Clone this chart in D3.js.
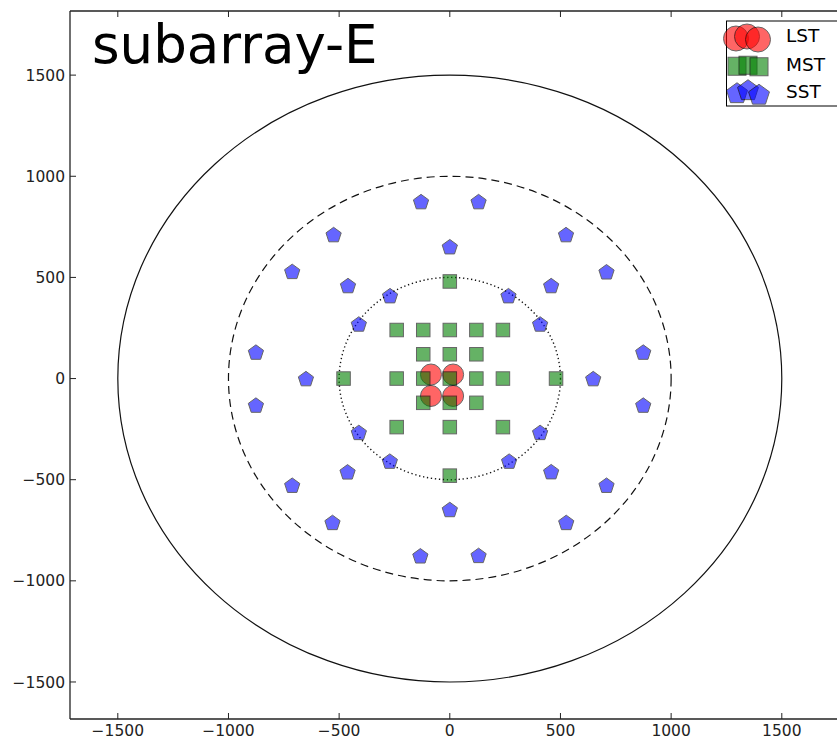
<!DOCTYPE html>
<html>
<head>
<meta charset="utf-8">
<script src="https://cdn.jsdelivr.net/npm/d3@7"></script>
<style>
  html, body { margin: 0; padding: 0; background: #fff; }
  svg { display: block; font-family: "DejaVu Sans", sans-serif; }
</style>
</head>
<body>
<svg id="chart" width="837" height="742"></svg>
<script>
// Telescope layout of subarray-E (ground positions in metres)
const title = "subarray-E";

// Large-size telescopes
const lstX = [-85, 15, -85, 15];
const lstY = [20, 20, -86, -86];

// Medium-size telescopes
const mstX = [0,
  -240, -120, 0, 120, 240,
  -120, 0, 120,
  -480, -240, -120, 0, 120, 240, 480,
  -120, 0, 120,
  -240, 0, 240,
  0];
const mstY = [480,
  240, 240, 240, 240, 240,
  120, 120, 120,
  0, 0, 0, 0, 0, 0, 0,
  -120, -120, -120,
  -240, -240, -240,
  -480];

// Small-size telescopes
const sstX = [130, -130, 525, -525, 0, 708, -712, 458, -460, 265, -270, 408, -411,
  874, -876, 648, -650, 874, -876, 408, -411, 268, -271, 458, -462, 708, -712,
  0, 526, -530, 130, -133];
const sstY = [875, 875, 712, 712, 652, 528, 530, 460, 460, 410, 410, 270, 270,
  131, 131, 0, 0, -131, -131, -266, -266, -408, -408, -460, -461, -527, -527,
  -647, -711, -711, -874, -876];

// Reference rings: radius and line style
const ringRadius = [1500, 1000, 500];
const ringStyle = ["solid", "dashed", "dotted"];

// Axis ticks
const tickValues = [-1500, -1000, -500, 0, 500, 1000, 1500];
const xDomain = [-1716, 1800];
const yDomain = [-1683, 1817];

// Legend entries
const legendLabels = ["LST", "MST", "SST"];

const svg = d3.select("#chart");
const plotLeft = 70, plotTop = 11, plotBottom = 719;
const xPerUnit = 0.22133;
const plotRight = plotLeft + (xDomain[1] - xDomain[0]) * xPerUnit;

const x = d3.scaleLinear().domain(xDomain).range([plotLeft, plotRight]);
const y = d3.scaleLinear().domain(yDomain).range([plotBottom, plotTop]);

const plot = svg.append("g");

// Rings (ellipses in screen space since the axes are not equal-aspect)
const dashFor = { solid: null, dashed: "8,5", dotted: "1.3,2.7" };
plot.selectAll("ellipse.ring")
  .data(ringRadius.map((r, i) => ({ r, style: ringStyle[i] })))
  .join("ellipse")
  .attr("class", "ring")
  .attr("cx", x(0))
  .attr("cy", y(0))
  .attr("rx", d => x(d.r) - x(0))
  .attr("ry", d => y(0) - y(d.r))
  .attr("fill", "none")
  .attr("stroke", "#111")
  .attr("stroke-width", d => d.style === "dotted" ? 1.4 : 1.2)
  .attr("stroke-dasharray", d => dashFor[d.style]);

function pentagon(R) {
  const pts = d3.range(5).map(k => {
    const a = -Math.PI / 2 + k * 2 * Math.PI / 5;
    return [R * Math.cos(a), R * Math.sin(a)];
  });
  return "M" + pts.map(p => p.join(",")).join("L") + "Z";
}

const markerStyle = (sel, color) => sel
  .attr("fill", color)
  .attr("stroke", "#000")
  .attr("stroke-width", 1)
  .attr("opacity", 0.6);

// LST circles
plot.selectAll("circle.lst")
  .data(lstX.map((v, i) => [v, lstY[i]]))
  .join("circle")
  .attr("class", "lst")
  .attr("cx", d => x(d[0]))
  .attr("cy", d => y(d[1]))
  .attr("r", 10.5)
  .call(markerStyle, "#ff0000");

// MST squares
const sq = 13.5;
plot.selectAll("rect.mst")
  .data(mstX.map((v, i) => [v, mstY[i]]))
  .join("rect")
  .attr("class", "mst")
  .attr("x", d => x(d[0]) - sq / 2)
  .attr("y", d => y(d[1]) - sq / 2)
  .attr("width", sq)
  .attr("height", sq)
  .call(markerStyle, "#008000");

// SST pentagons
plot.selectAll("path.sst")
  .data(sstX.map((v, i) => [v, sstY[i]]))
  .join("path")
  .attr("class", "sst")
  .attr("d", pentagon(8))
  .attr("transform", d => `translate(${x(d[0])},${y(d[1]) + 0.8})`)
  .call(markerStyle, "#0000ff");

// Axes frame
const axisColor = "#222";
const frame = svg.append("g").attr("stroke", axisColor).attr("stroke-width", 1.3);
frame.append("line").attr("x1", plotLeft).attr("x2", plotLeft).attr("y1", plotTop).attr("y2", plotBottom);
frame.append("line").attr("x1", plotLeft).attr("x2", plotRight).attr("y1", plotBottom).attr("y2", plotBottom);
frame.append("line").attr("x1", plotLeft).attr("x2", plotRight).attr("y1", plotTop).attr("y2", plotTop);
frame.append("line").attr("x1", plotRight).attr("x2", plotRight).attr("y1", plotTop).attr("y2", plotBottom);

const fmt = v => v < 0 ? "\u2212" + Math.abs(v) : String(v);
const tickLen = 6;
const tickFont = 15.5;

// Bottom axis ticks (inward) + top mirror ticks
const xt = svg.append("g");
xt.selectAll("line.b").data(tickValues).join("line").attr("class", "b")
  .attr("x1", d => x(d)).attr("x2", d => x(d))
  .attr("y1", plotBottom).attr("y2", plotBottom - tickLen)
  .attr("stroke", axisColor).attr("stroke-width", 1);
xt.selectAll("line.t").data(tickValues).join("line").attr("class", "t")
  .attr("x1", d => x(d)).attr("x2", d => x(d))
  .attr("y1", plotTop).attr("y2", plotTop + tickLen)
  .attr("stroke", axisColor).attr("stroke-width", 1);
xt.selectAll("text").data(tickValues).join("text")
  .attr("x", d => x(d))
  .attr("y", 735.5)
  .attr("text-anchor", "middle")
  .attr("font-size", tickFont)
  .attr("fill", "#222")
  .text(fmt);

// Left axis ticks (inward) + right mirror ticks
const yt = svg.append("g");
yt.selectAll("line.l").data(tickValues).join("line").attr("class", "l")
  .attr("x1", plotLeft).attr("x2", plotLeft + tickLen)
  .attr("y1", d => y(d)).attr("y2", d => y(d))
  .attr("stroke", axisColor).attr("stroke-width", 1);
yt.selectAll("line.r").data(tickValues).join("line").attr("class", "r")
  .attr("x1", plotRight).attr("x2", plotRight - tickLen)
  .attr("y1", d => y(d)).attr("y2", d => y(d))
  .attr("stroke", axisColor).attr("stroke-width", 1);
yt.selectAll("text").data(tickValues).join("text")
  .attr("x", 65)
  .attr("y", d => y(d))
  .attr("dy", "0.36em")
  .attr("text-anchor", "end")
  .attr("font-size", tickFont)
  .attr("fill", "#222")
  .text(fmt);

// Title inside the axes
svg.append("text")
  .attr("x", 92)
  .attr("y", 63)
  .attr("font-size", 53)
  .attr("fill", "#000")
  .text(title);

// Legend
const leg = svg.append("g");
leg.append("rect")
  .attr("x", 726.5).attr("y", 21)
  .attr("width", 120).attr("height", 85)
  .attr("fill", "#fff")
  .attr("stroke", "#000")
  .attr("stroke-width", 1);

const legRowY = [38, 66, 92];
const legDx = [-11, 0, 11];
const legDy = [0.5, -1.5, 1.5];
const legCx = 747;

// LST legend circles
leg.selectAll("circle").data(legDx).join("circle")
  .attr("cx", (d) => legCx + d)
  .attr("cy", (d, i) => legRowY[0] + legDy[i])
  .attr("r", 12.5)
  .call(markerStyle, "#ff0000");
// MST legend squares
const lsq = 18;
leg.selectAll("rect.m").data(legDx).join("rect").attr("class", "m")
  .attr("x", d => legCx + 1 + d - lsq / 2)
  .attr("y", (d, i) => legRowY[1] + legDy[i] * 0.5 - lsq / 2)
  .attr("width", lsq).attr("height", lsq)
  .call(markerStyle, "#008000");
// SST legend pentagons
leg.selectAll("path").data(legDx).join("path")
  .attr("d", pentagon(11))
  .attr("transform", (d, i) => `translate(${legCx + 1 + d},${legRowY[2] + 1 + legDy[i] * 1.5})`)
  .call(markerStyle, "#0000ff");

leg.selectAll("text").data(legendLabels).join("text")
  .attr("x", 786)
  .attr("y", (d, i) => legRowY[i] + 4 + [0, 0.5, 1.5][i])
  .attr("font-size", 18.5)
  .attr("fill", "#000")
  .text(d => d);
</script>
</body>
</html>
